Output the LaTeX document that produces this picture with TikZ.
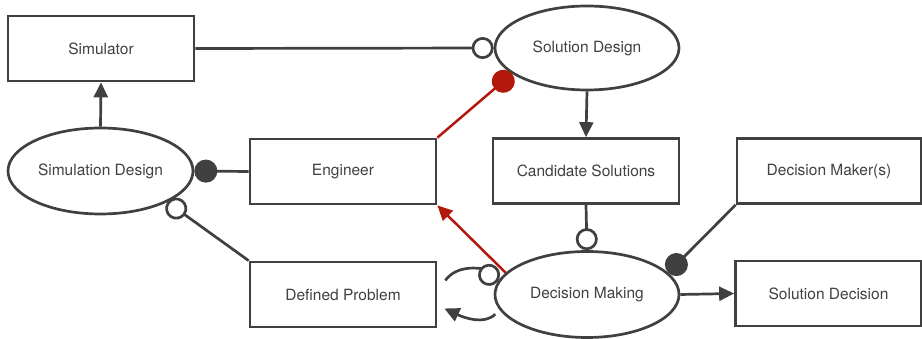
\documentclass[tikz,border=0pt]{standalone}
\usepackage{fontspec}
\setmainfont{TeX Gyre Heros}
\usetikzlibrary{shapes.geometric,arrows.meta}
\definecolor{ink}{HTML}{404040}
\definecolor{linkred}{HTML}{B3180C}
\begin{document}
\begin{tikzpicture}[x=1pt,y=-1pt,
  every node/.style={font=\fontsize{15.5}{18}\selectfont, text=ink},
  box/.style={draw=ink, line width=2.7pt, minimum width=186pt, minimum height=65pt, inner sep=0pt},
  oval/.style={draw=ink, ellipse, line width=2.7pt, minimum width=184pt, minimum height=85pt, inner sep=0pt},
  link/.style={draw=ink, line width=2.7pt},
  redlink/.style={draw=linkred, line width=2.5pt},
  arr/.style={-{Triangle[length=15pt,width=14pt]}},
  opendot/.style={-{Circle[length=22pt,line width=2.7pt,fill=white]}},
  fulldot/.style={-{Circle[length=23pt]}},
]
\useasboundingbox (0,0) rectangle (922,339);

% boxes
\node[box] (sim)  at (101,48.5)  {Simulator};
\node[box] (eng)  at (343,171.5) {Engineer};
\node[box] (cand) at (586,171)   {Candidate Solutions};
\node[box, minimum width=184pt] (dmk) at (829,171) {Decision Maker(s)};
\node[box] (dp)   at (343,294.5) {Defined Problem};
\node[box] (sdec) at (828.5,293.5) {Solution Decision};

% ellipses
\node[oval, minimum height=84pt] (sold) at (587,48) {Solution Design};
\node[oval, minimum width=185pt, minimum height=86pt] (simd) at (100.5,171) {Simulation Design};
\node[oval, minimum height=86pt] (dm) at (587,294.5) {Decision Making};

% grey connectors
\draw[link, opendot] (sim.east) -- (sold.west);
\draw[link, arr] (simd.north) -- (sim.south);
\draw[link, arr] (sold.south) -- (cand.north);
\draw[link, fulldot] (eng.west) -- (simd.east);
\draw[link, opendot] (dp.north west) -- (simd.-25);
\draw[link, opendot] (cand.south) -- (dm.north);
\draw[link, fulldot] (dmk.south west) -- (dm.15);
\draw[link, arr] (dm.east) -- (sdec.west);

% curved links between Defined Problem and Decision Making
\draw[link, opendot] ([xshift=8pt,yshift=14pt]dp.east) to[out=55,in=140] (dm.172);
\draw[link, arr, shorten <=6pt] (dm.190) to[out=-135,in=-25] ([xshift=7pt,yshift=-14pt]dp.east);

% red connectors
\draw[redlink, arr] (dm.165) -- (eng.south east);
\draw[redlink, fulldot] (eng.north east) -- (sold.-161);
\end{tikzpicture}
\end{document}
